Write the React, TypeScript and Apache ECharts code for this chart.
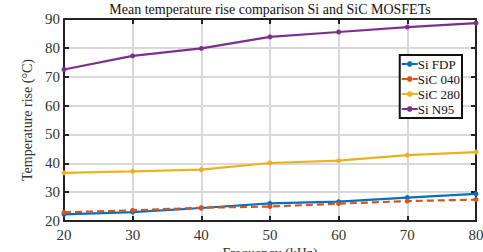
import React, { useEffect, useRef } from "react";
import * as echarts from "echarts";

const frequencies = [20, 30, 40, 50, 60, 70, 80];
const siFdp = [22.3, 23.1, 24.5, 26.1, 26.7, 28.1, 29.4];
const sic040 = [23.0, 23.7, 24.6, 25.0, 26.0, 26.9, 27.4];
const sic280 = [36.7, 37.2, 37.8, 40.1, 40.9, 42.8, 43.9];
const siN95 = [72.5, 77.2, 79.8, 83.8, 85.5, 87.2, 88.6];

const seriesNames = ["Si FDP", "SiC 040", "SiC 280", "Si N95"];
const seriesColors = ["#0072BD", "#D95319", "#EDB120", "#7E2F8E"];
const yTicks = [20, 30, 40, 50, 60, 70, 80, 90];

const chartTitle = "Mean temperature rise comparison Si and SiC MOSFETs";
const FONT = "serif";

export default function App() {
  const ref = useRef<HTMLDivElement>(null);

  useEffect(() => {
    if (!ref.current) return;
    const chart = echarts.init(ref.current, undefined, { renderer: "svg" });
    const values = [siFdp, sic040, sic280, siN95];

    const axisLine = { show: true, lineStyle: { color: "#222", width: 2 } };
    const tick = { show: true, inside: true, length: 5, lineStyle: { color: "#222", width: 2 } };

    chart.setOption({
      animation: false,
      backgroundColor: "#fff",
      textStyle: { fontFamily: FONT },
      graphic: [
        {
          type: "text",
          x: 270,
          y: 2,
          style: {
            text: chartTitle,
            font: `14px ${FONT}`,
            fill: "#111",
            textAlign: "center",
            textVerticalAlign: "top",
          },
        },
      ],
      grid: { left: 64, right: 7, top: 19, bottom: 31, outerBoundsMode: "none", containLabel: false },
      legend: {
        orient: "vertical",
        right: 21,
        top: 55,
        data: seriesNames,
        backgroundColor: "#fff",
        borderColor: "#111",
        borderWidth: 2,
        borderRadius: 0,
        padding: [2, 2, 2, 1],
        itemGap: 1,
        itemWidth: 16,
        itemHeight: 7,
        textStyle: { fontFamily: FONT, fontSize: 13, lineHeight: 14, color: "#111", padding: [0, 0, 0, -5] },
      },
      xAxis: [
        {
          type: "value",
          min: 20,
          max: 80,
          interval: 10,
          axisLine,
          axisTick: tick,
          axisLabel: { fontFamily: FONT, fontSize: 15, color: "#333", margin: 6 },
          splitLine: { show: true, lineStyle: { color: "#d9d9d9", width: 2 } },
          name: "Frequency (kHz)",
          nameLocation: "middle",
          nameGap: 25,
          nameTextStyle: { fontFamily: FONT, fontSize: 14, color: "#333" },
        },
        {
          type: "value",
          position: "top",
          min: 20,
          max: 80,
          interval: 10,
          axisLine,
          axisTick: tick,
          axisLabel: { show: false },
          splitLine: { show: false },
        },
      ],
      yAxis: [
        {
          type: "value",
          min: yTicks[0],
          max: yTicks[yTicks.length - 1],
          interval: 10,
          axisLine,
          axisTick: tick,
          axisLabel: { fontFamily: FONT, fontSize: 15, color: "#333", margin: 4 },
          splitLine: { show: true, lineStyle: { color: "#d9d9d9", width: 2 } },
          name: "Temperature rise (°C)",
          nameLocation: "middle",
          nameGap: 20,
          nameTextStyle: { fontFamily: FONT, fontSize: 14, color: "#333" },
        },
        {
          type: "value",
          position: "right",
          min: yTicks[0],
          max: yTicks[yTicks.length - 1],
          interval: 10,
          axisLine,
          axisTick: tick,
          axisLabel: { show: false },
          splitLine: { show: false },
        },
      ],
      series: seriesNames.map((name, i) => ({
        name,
        type: "line",
        data: frequencies.map((f, j) => [f, values[i][j]]),
        color: seriesColors[i],
        symbol: "circle",
        symbolSize: 5,
        showSymbol: true,
        lineStyle: { width: 2.2, type: i === 1 ? [7, 4] : "solid" },
        itemStyle: { color: seriesColors[i] },
        z: 3,
      })),
    });

    return () => chart.dispose();
  }, []);

  return <div ref={ref} style={{ width: 483, height: 252, position: "absolute", left: 0, top: 0 }} />;
}
